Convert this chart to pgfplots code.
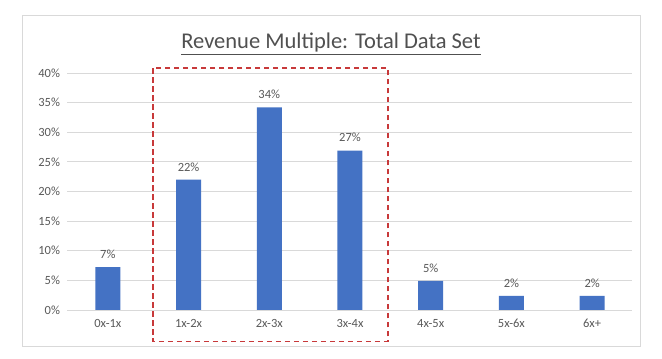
\documentclass[border=0pt]{standalone}
\usepackage{pgfplots}
\pgfplotsset{compat=1.18}
\usepackage{fontspec}
\setmainfont{Carlito}
\definecolor{barblue}{HTML}{4472C4}
\definecolor{txtgray}{HTML}{595959}
\definecolor{gridgray}{HTML}{D9D9D9}
\definecolor{boxred}{HTML}{C8393A}
\begin{document}
\begin{tikzpicture}[x=1pt,y=1pt]
\useasboundingbox (0,0) rectangle (662,359);
\fill[white] (0,0) rectangle (662,359);
\draw[gridgray, line width=0.8pt] (22,13) rectangle (640,344);
\node[font=\fontsize{22.5}{26}\selectfont, text=txtgray!90!black, inner sep=0pt, anchor=base] (t) at (331,310) {\underline{Revenue Multiple: Total Data Set}};
\begin{axis}[
  at={(67.5pt,49pt)}, anchor=south west,
  scale only axis, width=565pt, height=237pt,
  xmin=-0.5, xmax=6.5, ymin=0, ymax=40,
  ybar, bar width=25pt,
  axis line style={draw=none},
  ymajorgrids, grid style={gridgray, line width=0.8pt},
  major tick length=0pt,
  ytick={0,5,...,40},
  yticklabel={\pgfmathprintnumber{\tick}\%},
  xtick={0,...,6},
  xticklabels={0x-1x,1x-2x,2x-3x,3x-4x,4x-5x,5x-6x,6x+},
  /pgf/number format/assume math mode=true,
  tick label style={font=\fontsize{12.5}{14}\selectfont, text=txtgray},
  yticklabel style={xshift=-4pt},
  xticklabel style={yshift=-6pt},
  nodes near coords,
  point meta=explicit symbolic,
  nodes near coords style={font=\fontsize{12.5}{14}\selectfont, text=txtgray, yshift=5pt},
  clip=false,
]
\addplot[fill=barblue, draw=none] table[meta=lab] {
x y lab
0 7.25 7\%
1 22.0 22\%
2 34.2 34\%
3 26.9 27\%
4 4.9 5\%
5 2.4 2\%
6 2.4 2\%
};
\draw[boxred, line width=1.6pt, dash pattern=on 5.5pt off 3.5pt] (axis cs:0.56,40.8) rectangle (axis cs:3.47,-5.3);
\end{axis}
\end{tikzpicture}
\end{document}
